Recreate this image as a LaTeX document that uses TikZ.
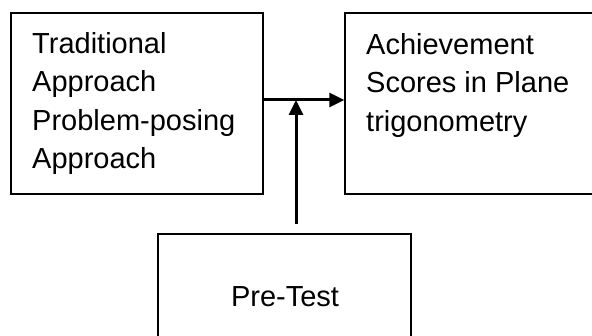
\documentclass[tikz,border=0pt]{standalone}
\usepackage{fontspec}
\setmainfont{Liberation Sans}
\usetikzlibrary{arrows.meta}
\tikzset{
  box/.style={draw, rectangle, line width=1.5pt, inner sep=0pt},
  txt/.style={anchor=north west, align=left, inner sep=0pt, font=\fontsize{29}{38.5}\selectfont},
  arr/.style={line width=3pt, -{Triangle[length=15pt, width=14pt]}}
}
\begin{document}
\begin{tikzpicture}[x=1pt, y=-1pt]
\useasboundingbox (0,0) rectangle (592,336);
\clip (0,0) rectangle (592,336);
\begin{scope}
\node[box, minimum width=252pt, minimum height=181pt] (approach) at (137,103.5) {};
\node[box, minimum width=275pt, minimum height=181pt] (scores) at (482.5,103.5) {};
\node[box, minimum width=253pt, minimum height=126pt] (pretest) at (284.5,297) {};
\node[txt] (approachtext) at (32,32) {Traditional\\Approach\\Problem-posing\\Approach};
\node[txt] (scorestext) at (366,33) {Achievement\\Scores in Plane\\trigonometry};
\node[inner sep=0pt, anchor=base, font=\fontsize{29}{38.5}\selectfont] (pretesttext) at (285,307) {Pre-Test};
\coordinate (joint) at (296,100);
\coordinate (tail) at (296,224);
\path[draw,arr] (approach.east |- joint) -- (scores.west |- joint);
\path[draw,arr] (tail) -- (joint);
\end{scope}
\end{tikzpicture}
\end{document}
